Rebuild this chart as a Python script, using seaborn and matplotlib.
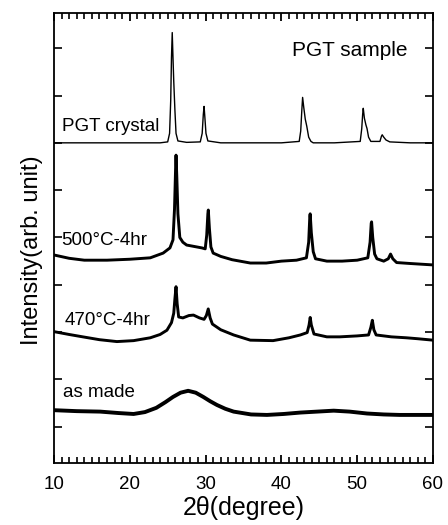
import matplotlib
matplotlib.use("Agg")
import matplotlib.pyplot as plt
import seaborn as sns
import pandas as pd

# ---------------- data ----------------
crystal_2theta = [10, 15, 20, 24.0, 25.0, 25.25, 25.4, 25.5, 25.6, 25.7, 25.8, 25.95, 26.1, 26.35,
                  27.5, 29.3, 29.55, 29.7, 29.8, 29.9, 30.05, 30.3, 32, 36, 40, 42.35, 42.55,
                  42.7, 42.8, 42.95, 43.15, 43.35, 43.6, 43.9, 44.2, 47, 50.4, 50.6, 50.72,
                  50.8, 50.95, 51.15, 51.3, 51.5, 51.8, 53.0, 53.2, 53.3, 53.5, 53.8, 54.3, 57, 60]
crystal_int = [6.0, 6.0, 6.0, 6.0, 6.02, 6.2, 6.9, 7.8, 8.33, 7.8, 7.3, 6.7, 6.2, 6.04,
               6.01, 6.02, 6.2, 6.6, 6.77, 6.55, 6.2, 6.04, 6.0, 6.0, 6.0, 6.03, 6.25,
               6.7, 6.96, 6.75, 6.5, 6.35, 6.12, 6.03, 6.0, 6.0, 6.03, 6.3, 6.6,
               6.73, 6.52, 6.38, 6.3, 6.12, 6.03, 6.03, 6.14, 6.17, 6.12, 6.06, 6.02, 6.0, 6.0]

s500_2theta = [10, 12, 14, 17, 20, 22.7, 24.4, 25.3, 25.7, 25.9, 26.05, 26.1, 26.2, 26.35, 26.6,
               27.0, 27.5, 28.5, 29.5, 29.95, 30.15, 30.3, 30.36, 30.5, 30.7, 31.0, 32, 33.5,
               35.9, 38, 40, 42, 43.3, 43.6, 43.75, 43.8, 43.95, 44.2, 44.5, 46, 48, 50,
               51.4, 51.7, 51.85, 51.9, 52.05, 52.3, 52.6, 53.5, 54.1, 54.4, 54.7, 55.2, 57, 60]
s500_int = [3.63, 3.56, 3.52, 3.52, 3.54, 3.57, 3.67, 3.78, 3.95, 4.6, 5.5, 5.74, 5.3, 4.5, 4.0,
            3.9, 3.84, 3.81, 3.78, 3.76, 4.05, 4.5, 4.58, 4.2, 3.8, 3.67, 3.6, 3.53,
            3.46, 3.46, 3.5, 3.52, 3.57, 3.9, 4.45, 4.5, 4.1, 3.7, 3.55, 3.5, 3.5, 3.52,
            3.57, 3.9, 4.3, 4.33, 4.0, 3.65, 3.55, 3.5, 3.55, 3.65, 3.55, 3.47, 3.45, 3.42]

s470_2theta = [10, 12, 13.8, 16, 18.3, 20.5, 22.7, 24, 24.9, 25.5, 25.8, 25.95, 26.1, 26.25, 26.45,
               27, 27.8, 28.4, 29.2, 29.8, 30.1, 30.35, 30.6, 30.9, 32, 33.7, 35.9, 38.9, 41,
               42.5, 43.4, 43.65, 43.8, 43.95, 44.3, 46, 47.7, 50, 51.5, 51.8, 52.0, 52.2,
               52.5, 54.5, 56.5, 58, 60]
s470_int = [2.01, 1.95, 1.90, 1.84, 1.80, 1.82, 1.88, 1.95, 2.04, 2.2, 2.4, 2.7, 2.96, 2.6, 2.32,
            2.3, 2.35, 2.36, 2.3, 2.27, 2.35, 2.49, 2.3, 2.17, 2.05, 1.94, 1.83, 1.82, 1.88,
            1.94, 1.99, 2.15, 2.31, 2.15, 1.96, 1.9, 1.9, 1.92, 1.94, 2.1, 2.25, 2.05,
            1.94, 1.9, 1.88, 1.86, 1.83]

made_2theta = [10, 13, 16.1, 18.5, 20.5, 22, 23.5, 24.7, 25.7, 26.7, 27.7, 28.7, 29.7, 30.6,
               31.5, 32.6, 33.7, 36, 38.1, 40.3, 42.5, 44.7, 46.9, 49, 51.3, 53.5, 55.6, 58, 60]
made_int = [0.35, 0.33, 0.32, 0.29, 0.27, 0.31, 0.40, 0.52, 0.63, 0.72, 0.76, 0.72, 0.63, 0.54,
            0.46, 0.38, 0.32, 0.26, 0.25, 0.27, 0.30, 0.32, 0.34, 0.32, 0.28, 0.26, 0.25, 0.25, 0.25]

curve_labels = ["PGT crystal", "500°C-4hr", "470°C-4hr", "as made"]
title_label = "PGT sample"
x_ticks = [10, 20, 30, 40, 50, 60]
x_minor_ticks = [v for v in range(10, 61) if v % 10 != 0]
y_ticks = [0, 1, 2, 3, 4, 5, 6, 7, 8]

# ---------------- style ----------------
sns.set_theme(style="ticks")
plt.rcParams["font.family"] = ["Liberation Sans", "DejaVu Sans"]
plt.rcParams.update({"text.color": "black", "axes.labelcolor": "black",
                     "xtick.color": "black", "ytick.color": "black"})

fig = plt.figure(figsize=(4.48, 5.25), dpi=100)
ax = fig.add_axes([0.1205, 0.118, 0.846, 0.8578])

curves = [
    (crystal_2theta, crystal_int, 1.0),
    (s500_2theta, s500_int, 2.1),
    (s470_2theta, s470_int, 2.1),
    (made_2theta, made_int, 2.8),
]
for xs, ys, lw in curves:
    df = pd.DataFrame({"x": xs, "y": ys})
    sns.lineplot(data=df, x="x", y="y", ax=ax, color="black", lw=lw,
                 estimator=None, sort=False)

ax.set_xlim(10, 60)
ax.set_ylim(-0.767, 8.75)
ax.set_xticks(x_ticks)
ax.set_xticks(x_minor_ticks, minor=True)
ax.set_yticks(y_ticks)
ax.set_yticks([], minor=True)
ax.tick_params(axis="x", which="major", direction="in", length=6, width=1.3,
               top=True, bottom=True, labelsize=13.5, pad=9, colors="black")
ax.tick_params(axis="x", which="minor", direction="in", length=4, width=1.2,
               top=True, bottom=True, color="black")
ax.tick_params(axis="y", which="major", direction="in", length=5.5, width=1.2,
               left=True, right=True, labelleft=False, colors="black")
for sp in ax.spines.values():
    sp.set_linewidth(1.3)
    sp.set_color("black")

ax.set_xlabel("2θ(degree)", fontsize=18, va="center", color="black")
ax.xaxis.set_label_coords(0.5, -0.1)
ax.set_ylabel("Intensity(arb. unit)", fontsize=17, va="center", color="black")
ax.yaxis.set_label_coords(-0.058, 0.473)

# text labels
ax.text(56.7, 7.96, title_label, fontsize=15, ha="right", va="center", color="black")
label_pos = [(11.0, 6.24), (11.0, 3.84), (11.45, 2.15), (11.2, 0.63)]
for (lx, ly), t in zip(label_pos, curve_labels):
    ax.text(lx, ly, t, fontsize=13.5, ha="left", va="baseline", color="black")

fig.savefig("out.png", dpi=100)
